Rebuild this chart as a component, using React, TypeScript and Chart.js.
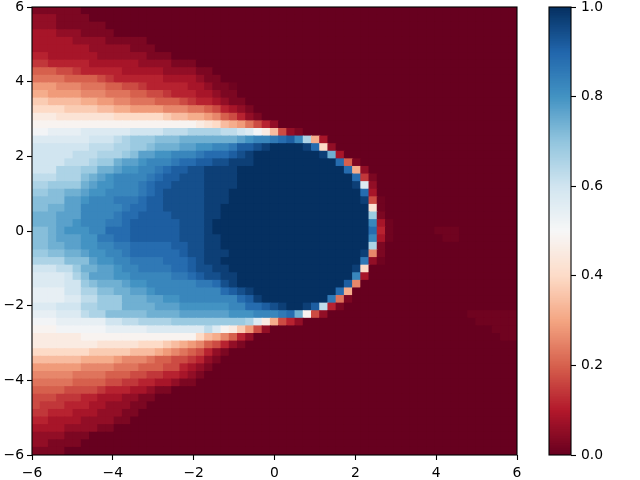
import React, { useEffect, useRef } from "react";
import { Chart, registerables } from "chart.js";

Chart.register(...registerables);

// Each character is a cell value on a 0..35 scale (base 36); "." is a faint 0.012.
const rows: string[] = [
  "111111",
  "2221111",
  "222111111",
  "3332221111",
  "33333222211111",
  "333333322222111",
  "44333333222222111",
  "5544444333333222211100",
  "777665444443333322221100",
  "888877776544444433332110",
  "aaa999888776654444433211.",
  "bbaaaa999888776654443321" + "1",
  "ddccccbbaa99888777654432" + "11",
  "eeeeddddccbbaaaa99988764" + "321",
  "gggfffffffeeeeeedccbba97" + "6421",
  "hhhhhhhhhhhhhhhhhhhhgfec" + "ba8642",
  "iijjjjkkkkkkllllmmmnnnnm" + "mlkigc621",
  "kkkkkkklllmnooopppqqqqqq" + "qrsttuvwtnb3",
  "lllllllmmmnnoopqqqrrsstt" + "uwwxyzzzzyve2",
  "lllllmmmnnnoprrsstttuvvv" + "wxyzzzzzzzzyq3",
  "llllmmmnooqrrstttuvvwwxx" + "yyyzzzzzzzzzzv71",
  "lllnnnooqqrssttuvwwxxyyy" + "yzzzzzzzzzzzzzvb2",
  "mmmnnnpqrsttttuvwwxxxyyy" + "yzzzzzzzzzzzzzzv51",
  "nnooooqrsstttuvwwxxxxyyy" + "yzzzzzzzzzzzzzzyk2",
  "ooppqqrssttttuvwxxxxxyyy" + "zzzzzzzzzzzzzzzzv3",
  "pppprrstttuuuvwwxxxxxyyy" + "zzzzzzzzzzzzzzzzy6.",
  "ppqqrrtttttuvvwwxxxxxyyz" + "zzzzzzzzzzzzzzzzzf.",
  "qqqrrrttttuvvwwwwxxxxyyz" + "zzzzzzzzzzzzzzzzzo1",
  "qqqrrstttuuvwwwwwwxxxyzz" + "zzzzzzzzzzzzzzzzzt3.",
  "ppqrsssttvvvwwwwwwxxxyzz" + "zzzzzzzzzzzzzzzzzv4.00000...",
  "ppqrrrssuuvvwwwwwwxxxyyz" + "zzzzzzzzzzzzzzzzzt3.000000..",
  "ppqqrrssttuuvvvvvwwxxyyz" + "zzzzzzzzzzzzzzzzzn1",
  "ooppqqrssttuvvvvvvwxxyyy" + "zzzzzzzzzzzzzzzzy91",
  "nnnnppprssttuuuuvvvwxyyz" + "zzzzzzzzzzzzzzzzu2.",
  "lllmmoqqrrsttuuuuvvwxxyy" + "zzzzzzzzzzzzzzzye",
  "kkkklnprrrsstttttuuvwxxy" + "yzzzzzzzzzzzzzzt3",
  "kkkkllopqqqrssttttttuuvx" + "yzzzzzzzzzzzzzw9",
  "jjjjllnnppqqrrsttttttttv" + "wxyzzzzzzzzzzvb",
  "jjjjkkmmoooqqqrrsstttttt" + "tvwyzzzzzzzzu81",
  "kkklllnnoooqqqqrrrssssss" + "ttvvwxyzzywm41",
  "jjjkkkmnnpppppqqqqrrrrrr" + "ssstttuvqh62" + "00000000000000000" + "......",
  "iiijjjjjjllmmnnnnooooooo" + "oonkgb642" + "000000000000000000000" + ".....",
  "hhhiiiiiijjjjjkkkkkkkmkh" + "gda62" + "000000000000000000000000000" + "...",
  "gggggghhhhhhhhhhhhhhecb9" + "742" + "000000000000000000000000000000" + "..",
  "ggggggggfffffeeedcba9764" + "21",
  "eeeeeeedddddcccba9876421",
  "ccccccbbbba9998776654210",
  "aaaaaa9999888777664321",
  "9999988887776655443210",
  "88888777766554433211",
  "77776666544433211",
  "6665554433322110",
  "65554443322211",
  "5544433322211",
  "443333222211",
  "33332222110",
  "2222111",
  "221111",
  "1111",
];

const gridSize = 59;
const axisMin = -6;
const axisMax = 6;
const axisTicks = [-6, -4, -2, 0, 2, 4, 6];
const barTicks = [0, 0.2, 0.4, 0.6, 0.8, 1];
const rdBu = [
  [103, 0, 31],
  [178, 24, 43],
  [214, 96, 77],
  [244, 165, 130],
  [253, 219, 199],
  [247, 247, 247],
  [209, 229, 240],
  [146, 197, 222],
  [67, 147, 195],
  [33, 102, 172],
  [5, 48, 97],
];

function colour(v: number): string {
  const p = Math.min(Math.max(v, 0), 1) * (rdBu.length - 1);
  const i = Math.min(Math.floor(p), rdBu.length - 2);
  const t = p - i;
  const c = rdBu[i].map((a, k) => Math.round(a + (rdBu[i + 1][k] - a) * t));
  return `rgb(${c[0]},${c[1]},${c[2]})`;
}

function cellValue(ch: string): number {
  return ch === "." ? 0.012 : parseInt(ch, 36) / 35;
}

const boxPlugin = {
  id: "box",
  afterDatasetsDraw(chart: any) {
    const { ctx, chartArea: a } = chart;
    ctx.save();
    ctx.strokeStyle = "#000";
    ctx.lineWidth = 1.1;
    ctx.strokeRect(a.left, a.top, a.right - a.left, a.bottom - a.top);
    ctx.restore();
  },
};

const tickFont = { family: "'DejaVu Sans'", size: 13.89 };

function noPad(s: any) {
  s.paddingLeft = 0;
  s.paddingRight = 0;
  s.paddingTop = 0;
  s.paddingBottom = 0;
}

export default function App() {
  const mainRef = useRef<HTMLCanvasElement>(null);
  const barRef = useRef<HTMLCanvasElement>(null);

  useEffect(() => {
    const step = (axisMax - axisMin) / gridSize;
    const data: any[] = [];
    const colours: string[] = [];
    rows.forEach((row, r) => {
      const full = row.padEnd(gridSize, "0");
      for (let c = 0; c < gridSize; c++) {
        const top = axisMax - r * step;
        data.push({ x: axisMin + (c + 0.5) * step, y: [top - step, top] });
        colours.push(colour(cellValue(full[c])));
      }
    });

    const main = new Chart(mainRef.current!, {
      type: "bar",
      data: {
        datasets: [
          {
            data,
            backgroundColor: colours,
            barPercentage: 1,
            categoryPercentage: 1,
            inflateAmount: 0.5,
            borderWidth: 0,
          } as any,
        ],
      },
      options: {
        responsive: false,
        animation: false,
        events: [],
        layout: { padding: { left: 0, top: 7, right: 123, bottom: 0 } },
        plugins: { legend: { display: false }, tooltip: { enabled: false } },
        scales: {
          x: {
            type: "linear",
            offset: false,
            min: axisMin,
            max: axisMax,
            border: { display: false },
            grid: { offset: false, drawOnChartArea: false, color: "#000", tickLength: 5, tickWidth: 1.1 },
            afterBuildTicks: (s: any) => {
              s.ticks = axisTicks.map((value) => ({ value }));
            },
            afterFit: (s: any) => {
              s.height = 25;
              noPad(s);
            },
            ticks: {
              color: "#000",
              font: tickFont,
              padding: 5,
              maxRotation: 0,
              autoSkip: false,
              callback: (v: any) => String(v).replace("-", "\u2212"),
            },
          },
          y: {
            type: "linear",
            min: axisMin,
            max: axisMax,
            border: { display: false },
            grid: { drawOnChartArea: false, color: "#000", tickLength: 5, tickWidth: 1.1 },
            afterBuildTicks: (s: any) => {
              s.ticks = axisTicks.map((value) => ({ value }));
            },
            afterFit: (s: any) => {
              s.width = 32;
              noPad(s);
            },
            ticks: {
              color: "#000",
              font: tickFont,
              padding: 3,
              autoSkip: false,
              callback: (v: any) => String(v).replace("-", "\u2212"),
            },
          },
        },
      } as any,
      plugins: [boxPlugin],
    });

    const levels: any[] = [];
    const levelColours: string[] = [];
    for (let i = 0; i < 256; i++) {
      levels.push({ x: "c", y: [i / 256, (i + 1) / 256] });
      levelColours.push(colour((i + 0.5) / 256));
    }
    const bar = new Chart(barRef.current!, {
      type: "bar",
      data: {
        labels: ["c"],
        datasets: [
          {
            data: levels,
            backgroundColor: levelColours,
            barPercentage: 1,
            categoryPercentage: 1,
            inflateAmount: 0.5,
            borderWidth: 0,
            grouped: false,
          } as any,
        ],
      },
      options: {
        responsive: false,
        animation: false,
        events: [],
        layout: { padding: { left: 9, top: 7, right: 0, bottom: 25 } },
        plugins: { legend: { display: false }, tooltip: { enabled: false } },
        scales: {
          x: { display: false },
          y: {
            type: "linear",
            position: "right",
            min: 0,
            max: 1,
            border: { display: false },
            grid: { drawOnChartArea: false, color: "#000", tickLength: 5, tickWidth: 1.1 },
            afterBuildTicks: (s: any) => {
              s.ticks = barTicks.map((value) => ({ value }));
            },
            afterFit: (s: any) => {
              s.width = 69;
              noPad(s);
            },
            ticks: {
              color: "#000",
              font: tickFont,
              padding: 5,
              autoSkip: false,
              callback: (v: any) => Number(v).toFixed(1),
            },
          },
        },
      } as any,
      plugins: [boxPlugin],
    });

    return () => {
      main.destroy();
      bar.destroy();
    };
  }, []);

  return (
    <div style={{ position: "fixed", left: 0, top: 0, width: 640, height: 480, background: "#fff" }}>
      <canvas ref={mainRef} width={640} height={480} style={{ position: "absolute", left: 0, top: 0 }} />
      <canvas ref={barRef} width={100} height={480} style={{ position: "absolute", left: 540, top: 0 }} />
    </div>
  );
}
